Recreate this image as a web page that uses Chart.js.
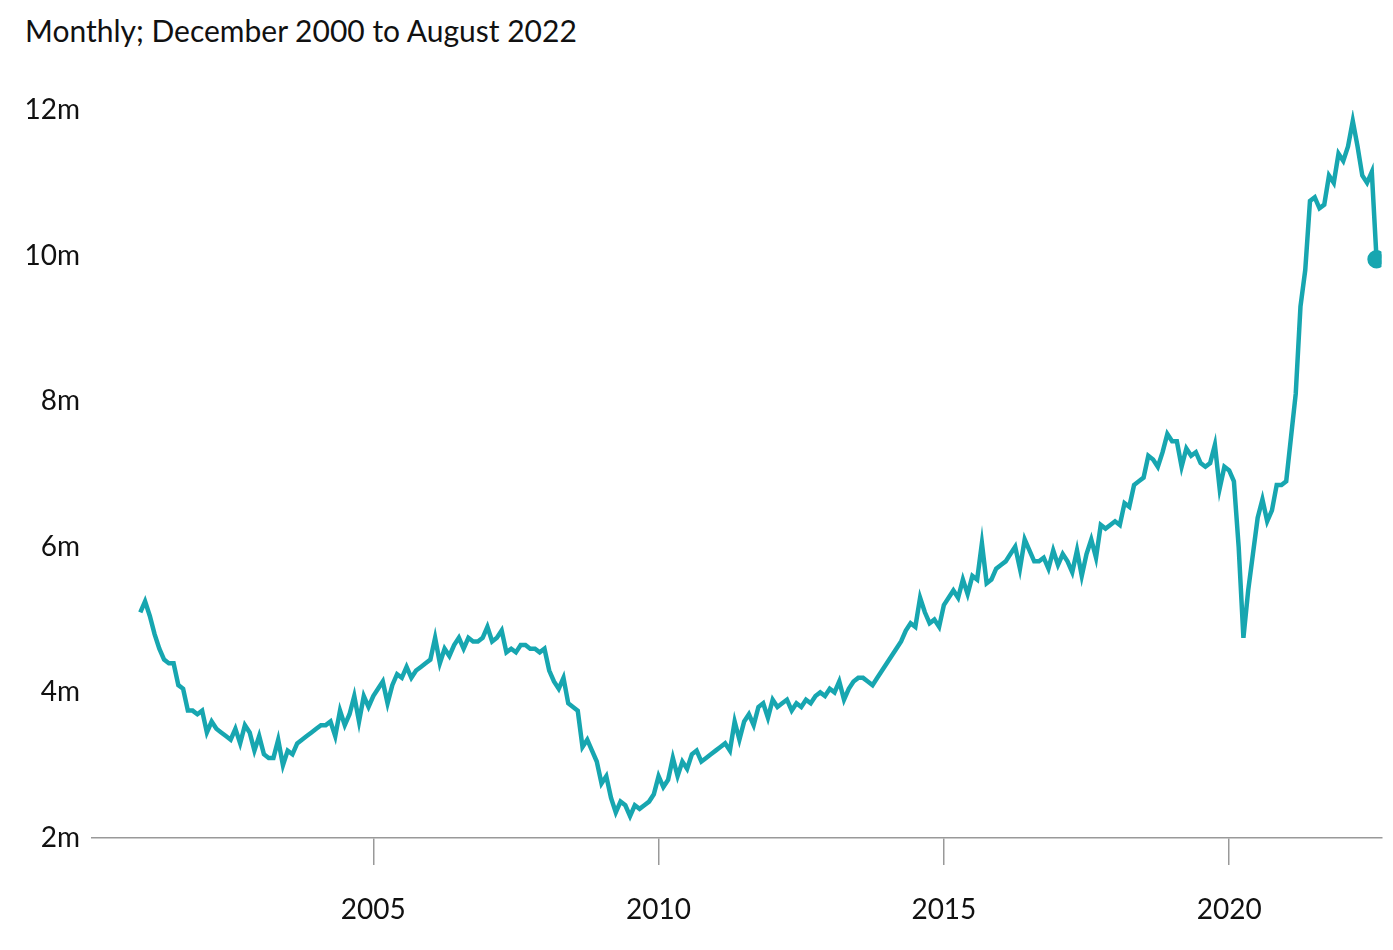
<!DOCTYPE html>
<html>
<head>
<meta charset="utf-8">
<script src="https://cdn.jsdelivr.net/npm/chart.js@4"></script>
<style>
  body { margin: 0; background: #fff; }
  #wrap { position: relative; width: 1393px; height: 950px; }
  #title { position: absolute; left: 25px; top: 12px; font: 30px Lato, "Open Sans", sans-serif; color: #111; }
  canvas { position: absolute; left: 0; top: 0; }
</style>
</head>
<body>
<div id="wrap">
  <div id="title">Monthly; December 2000 to August 2022</div>
  <canvas id="chart" width="1393" height="950"></canvas>
</div>
<script>
// Job openings, millions, monthly from December 2000
const startYear = 2000, startMonth = 11; // December 2000 (0-based month)
const values = [
  5.1,
  5.25,5.05,4.8,4.6,4.45,4.4,4.4,4.1,4.05,3.75,3.75,3.7,
  3.75,3.45,3.6,3.5,3.45,3.4,3.35,3.5,3.3,3.55,3.45,3.2,
  3.4,3.15,3.1,3.1,3.35,3.0,3.2,3.15,3.3,3.35,3.4,3.45,
  3.5,3.55,3.55,3.6,3.4,3.75,3.55,3.7,3.95,3.6,3.95,3.8,
  3.95,4.05,4.15,3.85,4.1,4.25,4.2,4.35,4.2,4.3,4.35,4.4,
  4.45,4.75,4.4,4.6,4.5,4.65,4.75,4.6,4.75,4.7,4.7,4.75,
  4.9,4.7,4.75,4.85,4.55,4.6,4.55,4.65,4.65,4.6,4.6,4.55,
  4.6,4.3,4.15,4.05,4.2,3.85,3.8,3.75,3.25,3.35,3.2,3.05,
  2.75,2.85,2.55,2.35,2.5,2.45,2.3,2.45,2.4,2.45,2.5,2.6,
  2.85,2.7,2.8,3.1,2.85,3.05,2.95,3.15,3.2,3.05,3.1,3.15,
  3.2,3.25,3.3,3.2,3.6,3.35,3.6,3.7,3.55,3.8,3.85,3.65,
  3.9,3.8,3.85,3.9,3.75,3.85,3.8,3.9,3.85,3.95,4.0,3.95,
  4.05,4.0,4.15,3.9,4.05,4.15,4.2,4.2,4.15,4.1,4.2,4.3,
  4.4,4.5,4.6,4.7,4.85,4.95,4.9,5.3,5.1,4.95,5.0,4.9,
  5.2,5.3,5.4,5.3,5.55,5.35,5.6,5.55,6.05,5.5,5.55,5.7,
  5.75,5.8,5.9,6.0,5.7,6.1,5.95,5.8,5.8,5.85,5.7,5.95,
  5.75,5.9,5.8,5.65,5.95,5.6,5.9,6.1,5.85,6.3,6.25,6.3,
  6.35,6.3,6.6,6.55,6.85,6.9,6.95,7.25,7.2,7.1,7.3,7.55,
  7.45,7.45,7.1,7.35,7.25,7.3,7.15,7.1,7.15,7.4,6.8,7.1,
  7.05,6.9,6.0,4.75,5.4,5.9,6.4,6.65,6.35,6.5,6.85,6.85,
  6.9,7.5,8.1,9.3,9.8,10.75,10.8,10.65,10.7,11.1,11.0,11.4,
  11.3,11.5,11.85,11.5,11.1,11.0,11.15,9.95
];
const yearTicks = [2005, 2010, 2015, 2020];
const yTicks = [2, 4, 6, 8, 10, 12];

const points = values.map((v, i) => ({ x: startYear + (startMonth + i) / 12, y: v }));
const last = points.length - 1;
const teal = 'rgb(23, 166, 176)';
const font = { family: 'Lato, "Open Sans", sans-serif', size: 28 };

new Chart(document.getElementById('chart'), {
  type: 'line',
  data: {
    datasets: [{
      data: points,
      borderColor: teal,
      backgroundColor: teal,
      borderWidth: 4.5,
      tension: 0,
      pointRadius: points.map((p, i) => i === last ? 7 : 0),
      pointHoverRadius: 0
    }]
  },
  options: {
    responsive: false,
    animation: false,
    layout: { padding: { top: 110, right: 4, left: 0, bottom: 0 } },
    plugins: { legend: { display: false }, tooltip: { enabled: false } },
    scales: {
      x: {
        type: 'linear',
        min: 2000.07,
        max: 2022.67,
        afterBuildTicks: s => { s.ticks = yearTicks.map(v => ({ value: v })); },
        afterFit: s => { s.height = 112; },
        grid: { drawOnChartArea: false, tickLength: 27, color: '#999', lineWidth: 1.5 },
        border: { color: '#999', width: 1.5 },
        ticks: { color: '#111', font: font, padding: 28, callback: v => String(v) }
      },
      y: {
        min: 2,
        max: 12,
        afterBuildTicks: s => { s.ticks = yTicks.map(v => ({ value: v })); },
        afterFit: s => { s.width = 92; },
        grid: { display: false },
        border: { display: false },
        ticks: { color: '#111', font: font, padding: 4, callback: v => v + 'm' }
      }
    }
  }
});
</script>
</body>
</html>
